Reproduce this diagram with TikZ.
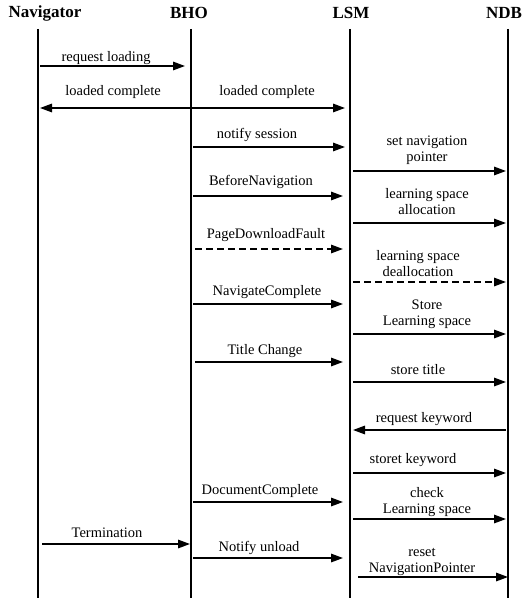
\documentclass[tikz,border=0pt]{standalone}
\usepackage{fontspec}
\setmainfont{Liberation Serif}
\usetikzlibrary{arrows.meta}
\begin{document}
\begin{tikzpicture}[
  x=1pt, y=-1pt,
  seqhdr/.style = {font=\fontsize{17}{19}\selectfont\bfseries, inner sep=0pt},
  seqlife/.style = {line width=2.4pt},
  seqmsg/.style = {-{Triangle[length=12pt, width=8.5pt]}, line width=1.5pt},
  seqdash/.style = {seqmsg, dash pattern=on 7pt off 4pt},
  seqlbl/.style = {font=\fontsize{14.5}{16}\selectfont, align=center, inner sep=0pt}
]
  \useasboundingbox (0,0) rectangle (525,601);
  % lifelines
  \node[seqhdr] (navhdr) at (45,13) {Navigator};
  \node[seqhdr] (bhohdr) at (189,13) {BHO};
  \node[seqhdr] (lsmhdr) at (351,13) {LSM};
  \node[seqhdr] (ndbhdr) at (504,13) {NDB};
  \foreach \n/\x in {nav/38, bho/191, lsm/350, ndb/508} {
    \coordinate (\n top) at (\x,29);
    \coordinate (\n bot) at (\x,598);
    \draw[seqlife] (\n top) -- (\n bot);
  }
  % messages Navigator / BHO
  \node[seqlbl] (l1) at (106,58) {request loading};
  \draw[seqmsg, shorten <=2pt, shorten >=6pt] (navtop |- 0,66) -- (bhotop |- 0,66);
  \node[seqlbl] (l2) at (113,92) {loaded complete};
  \draw[seqmsg, shorten >=2pt] (bhotop |- 0,108) -- (navtop |- 0,108);
  \node[seqlbl] (l3) at (267,92) {loaded complete};
  \draw[seqmsg, shorten >=5pt] (bhotop |- 0,108) -- (lsmtop |- 0,108);
  % BHO / LSM / NDB
  \node[seqlbl] (l4) at (257,135) {notify session};
  \draw[seqmsg, shorten <=2pt, shorten >=5pt] (bhotop |- 0,147) -- (lsmtop |- 0,147);
  \node[seqlbl] (l5) at (427,150) {set navigation\\pointer};
  \draw[seqmsg, shorten <=3pt, shorten >=2pt] (lsmtop |- 0,171) -- (ndbtop |- 0,171);
  \node[seqlbl] (l6) at (261,182) {BeforeNavigation};
  \draw[seqmsg, shorten <=2pt, shorten >=7pt] (bhotop |- 0,196) -- (lsmtop |- 0,196);
  \node[seqlbl] (l7) at (427,202) {learning space\\allocation};
  \draw[seqmsg, shorten <=3pt, shorten >=2pt] (lsmtop |- 0,223) -- (ndbtop |- 0,223);
  \node[seqlbl] (l8) at (266,235) {PageDownloadFault};
  \draw[seqdash, shorten <=4pt, shorten >=7pt] (bhotop |- 0,249) -- (lsmtop |- 0,249);
  \node[seqlbl] (l9) at (418,264) {learning space\\deallocation};
  \draw[seqdash, shorten <=3pt, shorten >=2pt] (lsmtop |- 0,282) -- (ndbtop |- 0,282);
  \node[seqlbl] (l10) at (267,292) {NavigateComplete};
  \draw[seqmsg, shorten <=2pt, shorten >=7pt] (bhotop |- 0,304) -- (lsmtop |- 0,304);
  \node[seqlbl] (l11) at (427,314) {Store\\Learning space};
  \draw[seqmsg, shorten <=3pt, shorten >=2pt] (lsmtop |- 0,334) -- (ndbtop |- 0,334);
  \node[seqlbl] (l12) at (265,351) {Title Change};
  \draw[seqmsg, shorten <=4pt, shorten >=7pt] (bhotop |- 0,362) -- (lsmtop |- 0,362);
  \node[seqlbl] (l13) at (418,370) {store title};
  \draw[seqmsg, shorten <=3pt, shorten >=2pt] (lsmtop |- 0,382) -- (ndbtop |- 0,382);
  \node[seqlbl] (l14) at (424,419) {request keyword};
  \draw[seqmsg, shorten <=2pt, shorten >=3pt] (ndbtop |- 0,430) -- (lsmtop |- 0,430);
  \node[seqlbl] (l15) at (413,460) {storet keyword};
  \draw[seqmsg, shorten <=3pt, shorten >=2pt] (lsmtop |- 0,473) -- (ndbtop |- 0,473);
  \node[seqlbl] (l16) at (260,491) {DocumentComplete};
  \draw[seqmsg, shorten <=2pt, shorten >=7pt] (bhotop |- 0,502) -- (lsmtop |- 0,502);
  \node[seqlbl] (l17) at (427,502) {check\\Learning space};
  \draw[seqmsg, shorten <=3pt, shorten >=2pt] (lsmtop |- 0,519) -- (ndbtop |- 0,519);
  % termination
  \node[seqlbl] (l18) at (107,533) {Termination};
  \draw[seqmsg, shorten <=4pt, shorten >=1pt] (navtop |- 0,544) -- (bhotop |- 0,544);
  \node[seqlbl] (l19) at (259,548) {Notify unload};
  \draw[seqmsg, shorten <=2pt, shorten >=7pt] (bhotop |- 0,558) -- (lsmtop |- 0,558);
  \node[seqlbl] (l20) at (422,562) {reset\\NavigationPointer};
  \draw[seqmsg, shorten <=8pt, shorten >=0pt] (lsmtop |- 0,577) -- (ndbtop |- 0,577);
\end{tikzpicture}
\end{document}
